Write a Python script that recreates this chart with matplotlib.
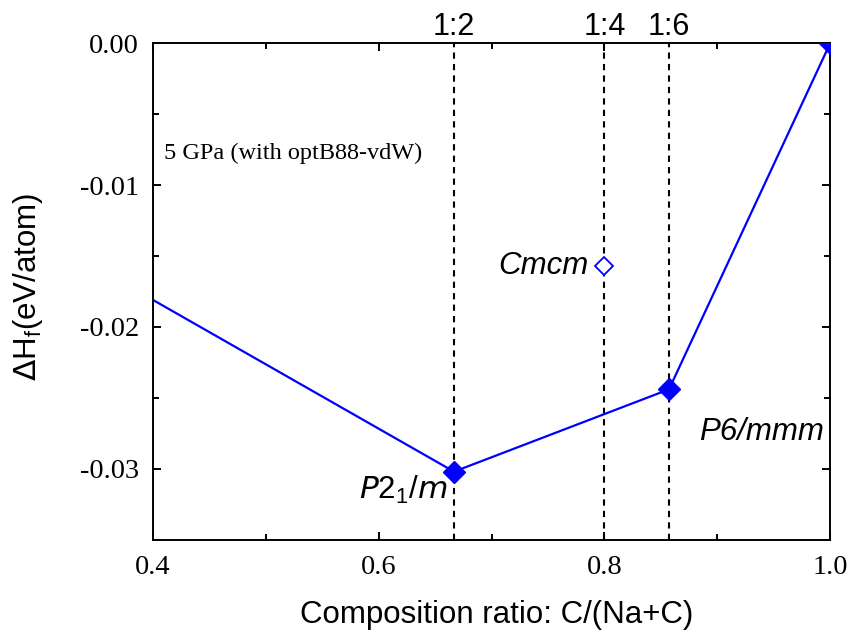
import matplotlib
matplotlib.use('Agg')
import matplotlib.pyplot as plt
from matplotlib.ticker import MultipleLocator

# convex hull points
hull_x = [0.4, 2 / 3, 6 / 7, 1.0]
hull_y = [-0.0181, -0.0302, -0.0244, 0.0]
stable_x = [2 / 3, 6 / 7, 1.0]
stable_y = [-0.0302, -0.0244, 0.0]
meta_x = [0.8]
meta_y = [-0.0157]
ratio_x = [2 / 3, 0.8, 6 / 7]
ratio_labels = ['1:2', '1:4', '1:6']

serif = ['Liberation Serif', 'DejaVu Serif']
sans = ['Liberation Sans', 'DejaVu Sans']
blue = '#0000ff'

fig = plt.figure(figsize=(8.55, 6.35), dpi=100)
ax = fig.add_axes([0.179, 0.150, 0.792, 0.782])

for x in ratio_x:
    ax.axvline(x, color='black', ls=(0, (3, 2.5)), lw=1.5, zorder=1)

ax.plot(hull_x, hull_y, color=blue, lw=1.6, zorder=2)
ax.plot(stable_x, stable_y, 'D', color=blue, ms=11.5, zorder=3)
ax.plot(meta_x, meta_y, 'D', mfc='white', mec=blue, mew=1.3, ms=9, zorder=3)

ax.set_xlim(0.4, 1.0)
ax.set_ylim(-0.035, 0.0)
ax.xaxis.set_minor_locator(MultipleLocator(0.1))
ax.yaxis.set_minor_locator(MultipleLocator(0.005))
ax.tick_params(which='both', direction='in', top=True, right=True, width=1.4)
ax.tick_params(which='major', length=6)
ax.tick_params(which='minor', length=4)
ax.set_xticks([0.4, 0.6, 0.8, 1.0])
ax.set_xticklabels(['0.4', '0.6', '0.8', '1.0'], family=serif, fontsize=20.5)
ax.set_yticks([0.0, -0.01, -0.02, -0.03])
ax.set_yticklabels(['0.00', '-0.01', '-0.02', '-0.03'], family=serif, fontsize=20.5)
ax.tick_params(axis='x', pad=11)
ax.tick_params(axis='y', pad=10)
for s in ax.spines.values():
    s.set_linewidth(1.4)

ax.set_xlabel('Composition ratio: C/(Na+C)', family=sans, fontsize=22.5)
ax.set_ylabel(r'$\Delta$H$_\mathregular{f}$(eV/atom)', family=sans, fontsize=22.5)
ax.xaxis.set_label_coords(0.507, -0.122)
ax.yaxis.set_label_coords(-0.16, 0.51)

for x, lab in zip(ratio_x, ratio_labels):
    ax.text(x, 1.016, lab, transform=ax.get_xaxis_transform(), ha='center', va='baseline',
            family=sans, fontsize=22)

ax.text(0.41, -0.00775, '5 GPa (with optB88-vdW)', family=serif, fontsize=17.5, va='center')
ax.text(0.661, -0.0315, r'$P$2$_\mathregular{1}$/$m$', family=sans, fontsize=22.5, ha='right', va='center')
ax.text(0.7855, -0.0157, 'Cmcm', family=sans, fontsize=22.5, ha='right', va='center', style='italic')
ax.text(0.994, -0.0274, 'P6/mmm', family=sans, fontsize=22.5, ha='right', va='center', style='italic')

fig.savefig('out.png', dpi=100)
